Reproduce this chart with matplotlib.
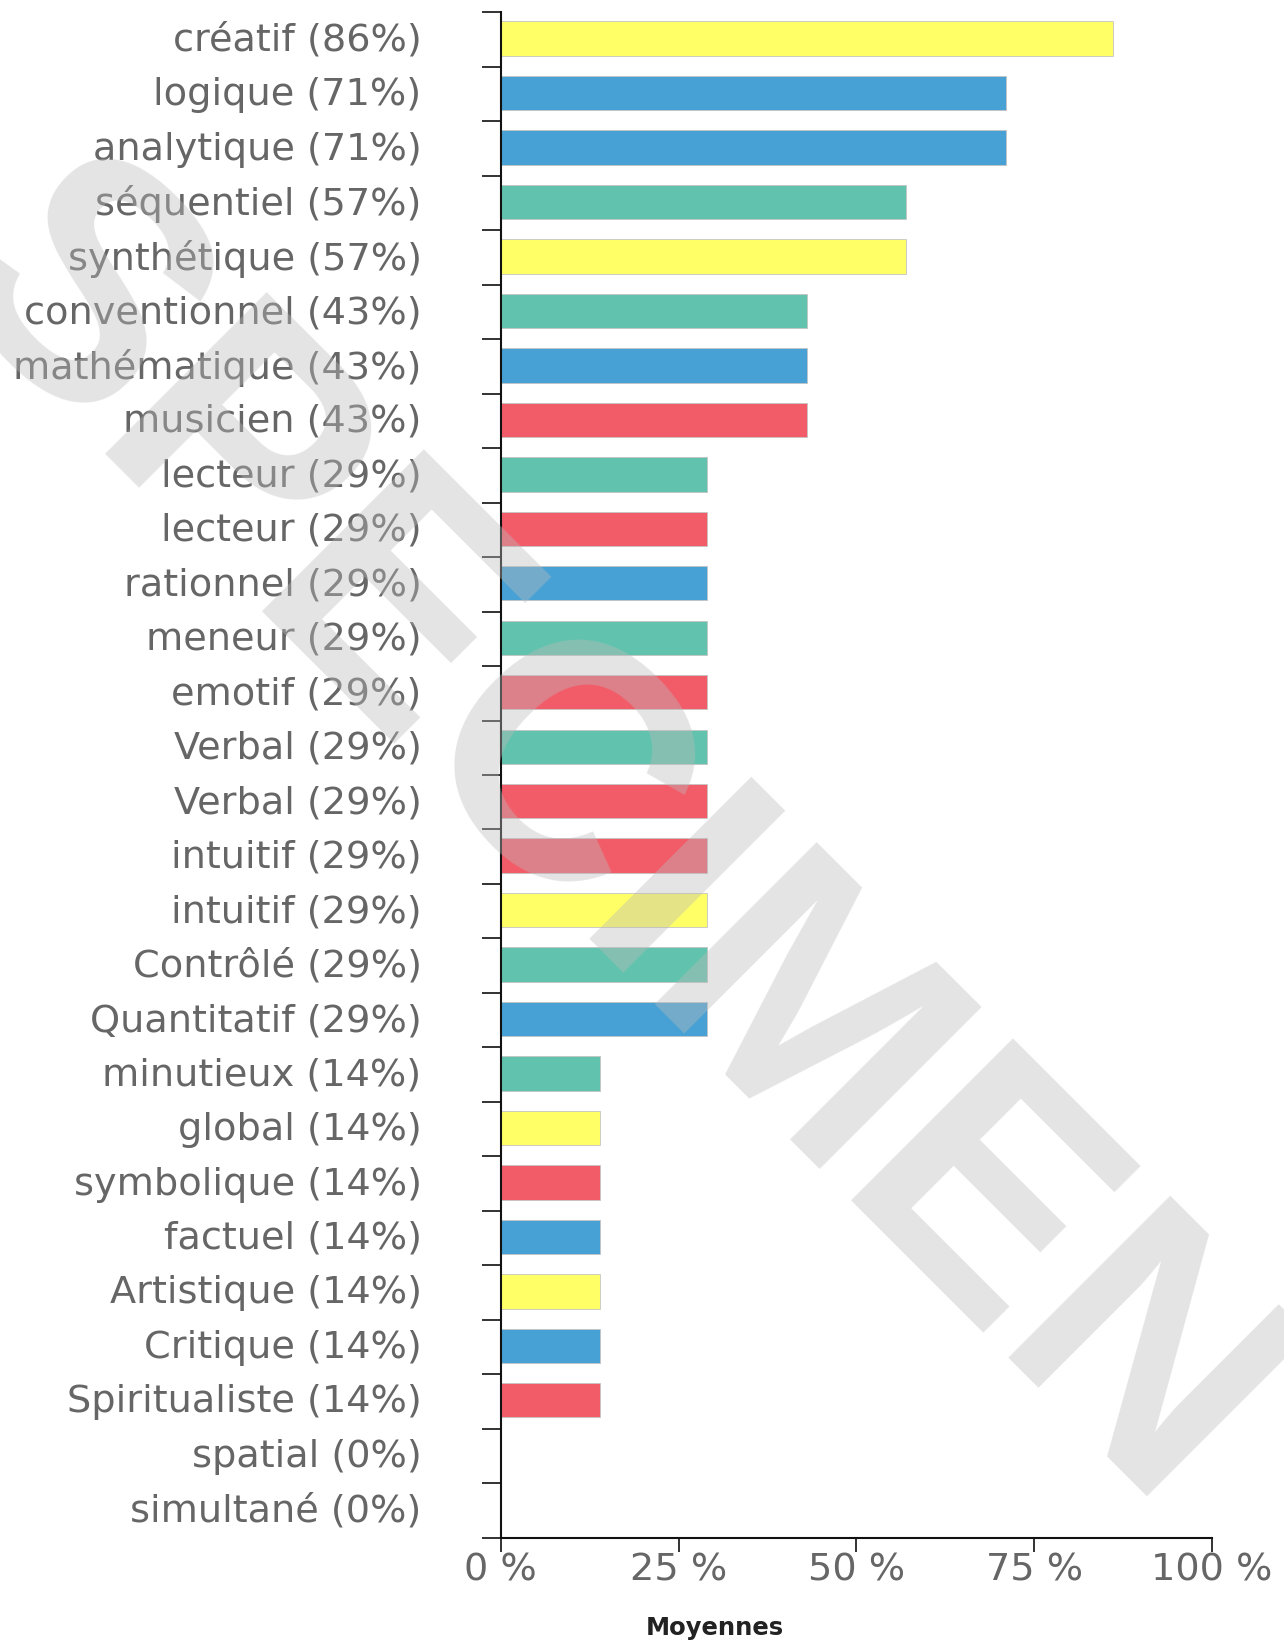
import matplotlib
matplotlib.use("Agg")
from matplotlib import pyplot as plt
from matplotlib.font_manager import FontProperties
from matplotlib.transforms import ScaledTranslation
import numpy as np

# categories, top to bottom
labels = ["créatif", "logique", "analytique", "séquentiel", "synthétique",
          "conventionnel", "mathématique", "musicien", "lecteur", "lecteur",
          "rationnel", "meneur", "emotif", "Verbal", "Verbal", "intuitif",
          "intuitif", "Contrôlé", "Quantitatif", "minutieux", "global",
          "symbolique", "factuel", "Artistique", "Critique", "Spiritualiste",
          "spatial", "simultané"]
values = [86, 71, 71, 57, 57, 43, 43, 43, 29, 29, 29, 29, 29, 29, 29, 29,
          29, 29, 29, 14, 14, 14, 14, 14, 14, 14, 0, 0]
groups = ["Y", "B", "B", "T", "Y", "T", "B", "R", "T", "R", "B", "T", "R",
          "T", "R", "R", "Y", "T", "B", "T", "Y", "R", "B", "Y", "B", "R",
          "T", "T"]
palette = {"Y": "#ffff66", "B": "#47a1d4", "T": "#61c3ad", "R": "#f25c69"}
xticks = [0, 25, 50, 75, 100]

W, H = 1284, 1642
fig = plt.figure(figsize=(W / 100, H / 100), dpi=100)
ax = fig.add_axes([0.390, 0.0636, 0.554, 0.9288])

n = len(labels)
ypos = np.arange(n)
cols = [palette[g] for g in groups]
ax.barh(ypos - 0.02, values, height=0.63, color=cols, edgecolor="#c4c4c4",
        linewidth=0.6)

ax.set_xlim(0, 100)
ax.set_ylim(n - 0.5, -0.5)

# ticks between bars, labels at bar centres
ax.set_yticks(np.arange(n + 1) - 0.5)
ax.set_yticklabels([])
ax.set_yticks(ypos, minor=True)
ax.set_yticklabels(["%s (%d%%)" % (l, v) for l, v in zip(labels, values)],
                   minor=True, fontsize=27.5, color="#666666")
ax.tick_params(axis="y", which="major", length=14, width=1.3, color="#222222")
ax.tick_params(axis="y", which="minor", length=0, pad=57)
# nudge the labels up a little
shift = ScaledTranslation(0, 0.03, fig.dpi_scale_trans)
for t in ax.get_yticklabels(minor=True):
    t.set_transform(t.get_transform() + shift)

ax.set_xticks(xticks)
ax.set_xticklabels(["%d %%" % t for t in xticks], fontsize=27.5,
                   color="#666666")
ax.tick_params(axis="x", length=10, width=1.3, color="#222222", pad=1)

for s in ["top", "right"]:
    ax.spines[s].set_visible(False)
for s in ["left", "bottom"]:
    ax.spines[s].set_linewidth(1.5)
    ax.spines[s].set_color("#111111")

fig.text(715 / W, 1 - 1628 / H, "Moyennes", fontsize=17.5,
         fontweight="bold", color="#222222", ha="center", va="center")

# watermark: baseline origin worked out from where the P stem sits
wm_size = 240
prop = FontProperties(family="Liberation Sans", weight="bold", size=wm_size)
em = wm_size * 100 / 72
ang = np.radians(45)
u = np.array([np.cos(ang), np.sin(ang)])
p_stem = np.array([103.0, 462.0])
p0 = p_stem - u * 0.74 * em   # advance of S + left bearing of P
fig.text(p0[0] / W, 1 - p0[1] / H, "SPECIMEN", fontproperties=prop,
         color="#bbbbbb", alpha=0.4, rotation=-45, rotation_mode="anchor",
         ha="left", va="baseline", zorder=10)

fig.savefig("out.png")
